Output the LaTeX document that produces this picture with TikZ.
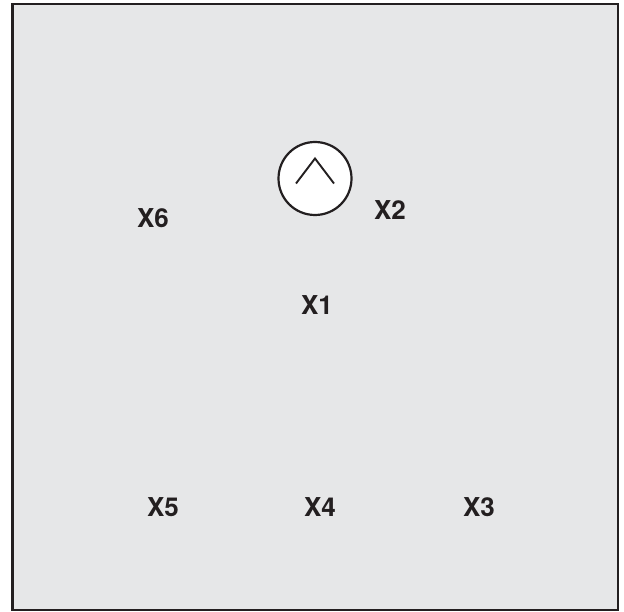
\documentclass[tikz,border=0pt]{standalone}
\usepackage{fontspec}
\setmainfont{TeX Gyre Heros}
\definecolor{panelgray}{HTML}{E6E7E8}
\definecolor{edgeblack}{HTML}{231F20}
\begin{document}
\begin{tikzpicture}[x=1pt,y=-1pt,
  lbl/.style={font=\fontsize{26}{30}\selectfont\bfseries, text=edgeblack, inner sep=0pt},
  knob/.style={circle, draw=edgeblack, line width=2.2pt, fill=white, minimum size=73pt, inner sep=0pt}]
\useasboundingbox (0,0) rectangle (624,612);
\draw[edgeblack, line width=2.8pt, fill=panelgray] (12.5,4) rectangle (618,610);
\node[knob] (c) at (315,178.5) {};
\draw[edgeblack, line width=1.9pt] ([shift={(-19,5)}]c.center) coordinate (cl) -- ([shift={(0,-20)}]c.center) coordinate (ct) -- ([shift={(19,5)}]c.center) coordinate (cr);
\node[lbl] (x6) at (153,218) {X6};
\node[lbl] (x2) at (390,210.5) {X2};
\node[lbl] (x1) at (317,305.5) {X1};
\node[lbl] (x5) at (163,507.5) {X5};
\node[lbl] (x4) at (320,507.5) {X4};
\node[lbl] (x3) at (479,507.5) {X3};
\end{tikzpicture}
\end{document}
